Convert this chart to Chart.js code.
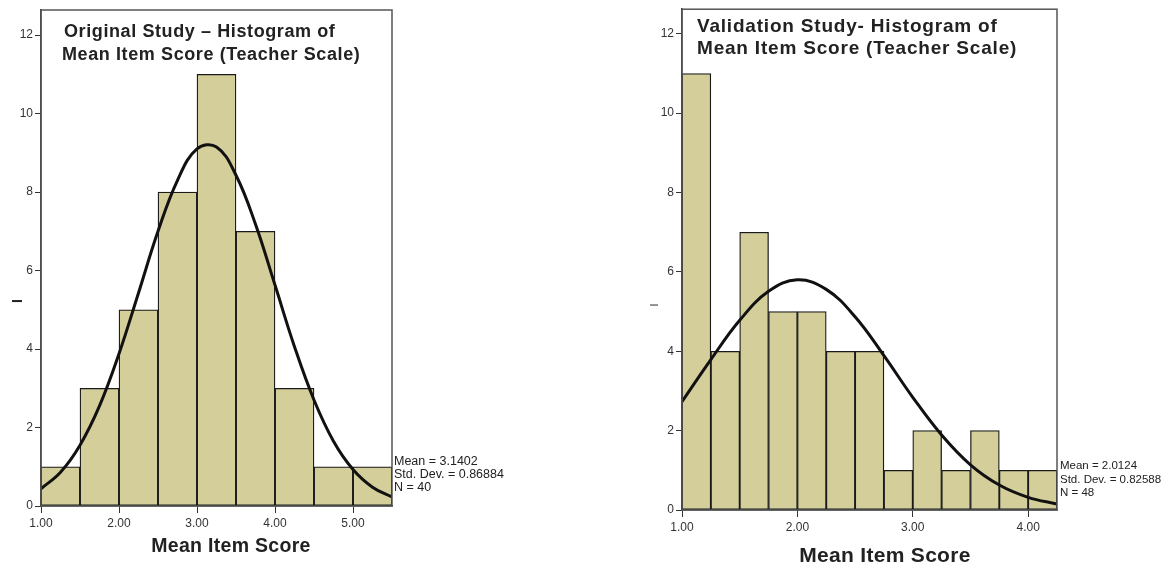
<!DOCTYPE html>
<html>
<head>
<meta charset="utf-8">
<script src="https://cdn.jsdelivr.net/npm/chart.js@4"></script>
<style>
body{margin:0;background:#fff;width:1172px;height:565px;position:relative;overflow:hidden;font-family:"Liberation Sans",Arial,sans-serif;color:#222}
canvas{position:absolute;top:0}
.ttl{position:absolute;font-weight:bold;white-space:nowrap}
.xt{position:absolute;font-weight:bold;white-space:nowrap;transform:translate(-50%,-50%);letter-spacing:0.3px}
.stats{position:absolute;white-space:nowrap;color:#222}
.yl{position:absolute;transform:translate(-50%,-50%) rotate(-90deg)}
</style>
</head>
<body>
<canvas id="orig" width="400" height="565" style="left:0"></canvas>
<canvas id="valid" width="425" height="565" style="left:640px"></canvas>

<div class="ttl" style="left:64px;top:20px;font-size:18px;line-height:23px;letter-spacing:0.6px">Original Study – Histogram of</div>
<div class="ttl" style="left:62px;top:43px;font-size:18px;line-height:23px;letter-spacing:0.6px">Mean Item Score (Teacher Scale)</div>
<div class="ttl" style="left:697px;top:15px;font-size:19px;line-height:22px;letter-spacing:0.8px">Validation Study- Histogram of<br>Mean Item Score (Teacher Scale)</div>

<div class="xt" style="left:231px;top:545px;font-size:19.5px">Mean Item Score</div>
<div class="xt" style="left:885px;top:555px;font-size:21px">Mean Item Score</div>

<div class="stats" style="left:394px;top:455px;line-height:13px;font-size:12.5px">Mean = 3.1402<br>Std. Dev. = 0.86884<br>N = 40</div>
<div class="stats" style="left:1060px;top:459px;line-height:13.5px;font-size:11.5px">Mean = 2.0124<br>Std. Dev. = 0.82588<br>N = 48</div>

<div class="yl" style="left:17px;top:301px;font-size:14px;font-weight:bold">I</div>
<div class="yl" style="left:654px;top:305px;font-size:11px">l</div>

<script>
// y ticks shared by both panels
const yTicks = [0, 2, 4, 6, 8, 10, 12];

// original study
const origBinStarts = [1.0, 1.5, 2.0, 2.5, 3.0, 3.5, 4.0, 4.5, 5.0];
const origBinWidth = 0.5;
const origCounts = [1, 3, 5, 8, 11, 7, 3, 1, 1];
const origXTicks = [1, 2, 3, 4, 5];
const origCurveX = [1.0, 1.25, 1.5, 1.75, 2.0, 2.25, 2.5, 2.75, 3.0, 3.25, 3.5, 3.75, 4.0, 4.25, 4.5, 4.75, 5.0, 5.25, 5.5];
const origCurveY = [0.44, 0.86, 1.55, 2.55, 3.88, 5.43, 7.00, 8.30, 9.10, 9.15, 8.43, 7.18, 5.63, 4.06, 2.70, 1.65, 0.93, 0.48, 0.23];

// validation study
const validBinStarts = [1.0, 1.25, 1.5, 1.75, 2.0, 2.25, 2.5, 2.75, 3.0, 3.25, 3.5, 3.75, 4.0];
const validBinWidth = 0.25;
const validCounts = [11, 4, 7, 5, 5, 4, 4, 1, 2, 1, 2, 1, 1];
const validXTicks = [1, 2, 3, 4];
const validCurveX = [1.0, 1.25, 1.5, 1.75, 2.0, 2.25, 2.5, 2.75, 3.0, 3.25, 3.5, 3.75, 4.0, 4.25];
const validCurveY = [2.73, 3.79, 4.78, 5.51, 5.80, 5.56, 4.87, 3.89, 2.84, 1.89, 1.14, 0.63, 0.32, 0.15];

const frame = {
    id: 'frame',
    afterDatasetsDraw(chart) {
        const a = chart.chartArea, ctx = chart.ctx;
        ctx.save();
        ctx.strokeStyle = '#555';
        ctx.lineWidth = 1.5;
        ctx.strokeRect(a.left, a.top, a.right - a.left, a.bottom - a.top);
        ctx.restore();
    }
};

function makeHist(canvas, binStarts, binWidth, counts, curveX, curveY, xTicks, box) {
    const bars = binStarts.map((s, i) => ({x: s + binWidth / 2, y: counts[i]}));
    const curve = curveX.map((x, i) => ({x: x, y: curveY[i]}));
    new Chart(canvas, {
        type: 'bar',
        data: {
            datasets: [{
                type: 'line',
                data: curve,
                borderColor: '#111',
                borderWidth: 3,
                pointRadius: 0,
                tension: 0.4,
                order: 0
            }, {
                type: 'bar',
                data: bars,
                backgroundColor: '#d4cf9a',
                borderColor: '#1a1a1a',
                borderWidth: 1.3,
                borderSkipped: false,
                barPercentage: 1,
                categoryPercentage: 1,
                order: 1
            }]
        },
        plugins: [frame],
        options: {
            responsive: false,
            animation: false,
            events: [],
            layout: {padding: {left: 0, top: box.top, right: box.right, bottom: 0}},
            plugins: {legend: {display: false}, tooltip: {enabled: false}},
            scales: {
                x: {
                    type: 'linear',
                    min: box.xMin,
                    max: box.xMax,
                    offset: false,
                    afterFit: s => { s.height = box.xAxisH; },
                    afterBuildTicks: s => { s.ticks = xTicks.map(v => ({value: v})); },
                    grid: {drawOnChartArea: false, offset: false, tickLength: 7, tickColor: '#333'},
                    border: {color: '#333', width: 1.5},
                    ticks: {color: '#333', padding: 3, font: {size: 12, family: 'Liberation Sans'},
                        callback: v => Number(v).toFixed(2), maxRotation: 0}
                },
                y: {
                    min: 0,
                    max: box.yMax,
                    afterFit: s => { s.width = box.yAxisW; },
                    afterBuildTicks: s => { s.ticks = yTicks.map(v => ({value: v})); },
                    grid: {drawOnChartArea: false, tickLength: 6, tickColor: '#333'},
                    border: {color: '#333', width: 1.5},
                    ticks: {color: '#333', padding: 2, font: {size: 12, family: 'Liberation Sans'}}
                }
            }
        }
    });
}

makeHist(document.getElementById('orig'), origBinStarts, origBinWidth, origCounts, origCurveX, origCurveY, origXTicks,
    {top: 10, right: 8, xAxisH: 59, yAxisW: 41, xMin: 1, xMax: 5.5, yMax: 12.64});
makeHist(document.getElementById('valid'), validBinStarts, validBinWidth, validCounts, validCurveX, validCurveY, validXTicks,
    {top: 8, right: 8, xAxisH: 55, yAxisW: 42, xMin: 1, xMax: 4.25, yMax: 12.62});
</script>
</body>
</html>
